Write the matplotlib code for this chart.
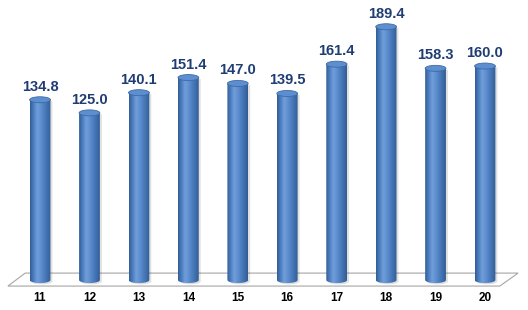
import numpy as np
import matplotlib
matplotlib.use("Agg")
import matplotlib.pyplot as plt
from matplotlib.patches import Ellipse, Polygon
from matplotlib.path import Path
from matplotlib.colors import to_rgb

# data
categories = ["11", "12", "13", "14", "15", "16", "17", "18", "19", "20"]
values = [134.8, 125.0, 140.1, 151.4, 147.0, 139.5, 161.4, 189.4, 158.3, 160.0]

plt.rcParams["font.family"] = ["Liberation Sans", "DejaVu Sans"]

fig = plt.figure(figsize=(5.28, 3.10), dpi=100)
ax = fig.add_axes([0, 0, 1, 1])
ax.set_xlim(-0.81, 9.87)
ax.set_ylim(-22.4, 209.4)
ax.axis("off")

bar_w = 0.42
ell_h = 4.5  # ellipse height in data units

# floor
floor = Polygon([(-0.65, -4.5), (9.30, -4.5), (9.67, 5.2), (-0.30, 5.2)],
                closed=True, facecolor="white", edgecolor="#a6a6a6", lw=0.8, zorder=1)
ax.add_patch(floor)

# horizontal gradient for the cylinder body
dark = np.array(to_rgb("#2f5b91"))
mid = np.array(to_rgb("#4f81c4"))
light = np.array(to_rgb("#7aa6e0"))
t = np.linspace(0, 1, 64)
prof = np.where(t < 0.35, t / 0.35, 1 - (t - 0.35) / 0.65)
prof = np.clip(prof, 0, 1) ** 0.8
cols = []
for p in prof:
    base = dark + (mid - dark) * min(1, p * 1.6)
    c = base + (light - mid) * max(0, p - 0.6) * 2.0
    cols.append(np.clip(c, 0, 1))
grad = np.array(cols)[None, :, :]

for i, (cat, v) in enumerate(zip(categories, values)):
    x0, x1 = i - bar_w / 2, i + bar_w / 2
    # body path: rectangle with half-ellipse bottom
    th = np.linspace(np.pi, 2 * np.pi, 40)
    bx = i + bar_w / 2 * np.cos(th)
    by = ell_h / 2 * np.sin(th)
    verts = list(zip(bx, by)) + [(x1, v), (x0, v), (x0, 0)]
    path = Path(verts, closed=True)

    # soft shadow
    sh = Polygon(np.array(verts) + [0.04, -1.0], closed=True,
                 facecolor="#000000", alpha=0.12, edgecolor="none", zorder=2)
    ax.add_patch(sh)

    im = ax.imshow(grad, extent=[x0, x1, -ell_h, v], aspect="auto",
                   interpolation="bilinear", zorder=3)
    im.set_clip_path(path, transform=ax.transData)

    top = Ellipse((i, v), bar_w, ell_h, facecolor="#5d8fd0",
                  edgecolor="#3d6aa6", lw=0.6, zorder=4)
    ax.add_patch(top)

    ax.annotate(f"{v:.1f}", (i, v), xytext=(0, 6.5), textcoords="offset points",
                ha="center", va="baseline", fontsize=10.5, fontweight="bold",
                color="#1f3d73", zorder=5)

    ax.text(i, -13.5, cat, ha="center", va="center", fontsize=8.5,
            fontweight="bold", color="black")

fig.savefig("out.png", dpi=100)
